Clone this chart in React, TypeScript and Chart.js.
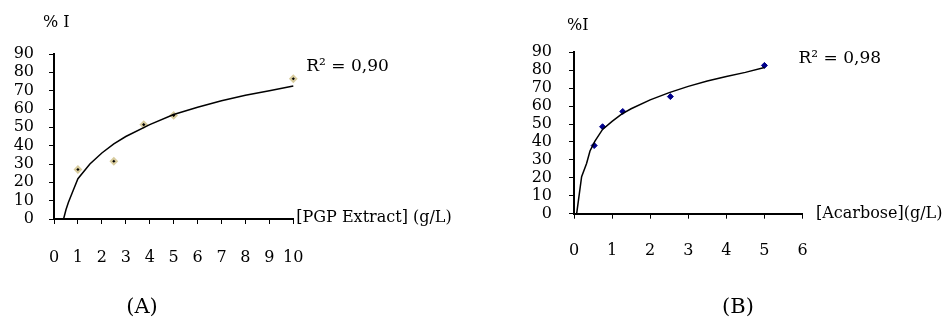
import React, { useEffect, useRef } from "react";
import { Chart, registerables } from "chart.js";
Chart.register(...registerables);

const FONT = "'DejaVu Serif', 'Liberation Serif', serif";

// ---- Panel A: PGP extract ----
const aPointX = [1, 2.5, 3.75, 5, 10];
const aPointY = [27, 31.5, 51.5, 56.5, 76.5];
const aTrendX = [0.4, 0.5, 0.6, 0.8, 1, 1.5, 2, 2.5, 3, 4, 5, 6, 7, 8, 9, 10];
const aTrendY = [0, 5, 9, 15.5, 22, 30, 36, 41, 45, 51.5, 57, 61, 64.5, 67.5, 70, 72.5];
const aXMax = 10;

// ---- Panel B: Acarbose ----
const bPointX = [0.53, 0.75, 1.28, 2.53, 5];
const bPointY = [38, 48.5, 57, 65.3, 82.7];
const bTrendX = [0.07, 0.2, 0.33, 0.42, 0.55, 0.75, 1, 1.25, 1.5, 2, 2.5, 3, 3.5, 4, 4.5, 5];
const bTrendY = [0, 20.6, 28, 35, 40.5, 47, 51.5, 55.5, 58.5, 63.5, 67.5, 71, 74, 76.5, 78.8, 81.5];
const bXMax = 6;

const yMax = 90;
const yStep = 10;

type Label = { text: string; dx: number; dy: number; anchor: "left" | "right" | "bottom" | "canvas"; size: number; align?: CanvasTextAlign };

type PanelProps = {
  left: number;
  width: number;
  pad: { top: number; right: number };
  yWidth: number;
  xHeight: number;
  yLabelPad: number;
  xLabelPad: number;
  px: number[];
  py: number[];
  tx: number[];
  ty: number[];
  xMax: number;
  pointBg: string;
  pointBorder: string;
  pointBorderWidth: number;
  pointRadius: number;
  labels: Label[];
};

function Panel(p: PanelProps) {
  const ref = useRef<HTMLCanvasElement>(null);
  useEffect(() => {
    const textPlugin = {
      id: "panelText",
      afterDraw(chart: any) {
        const ctx = chart.ctx as CanvasRenderingContext2D;
        const a = chart.chartArea;
        ctx.save();
        ctx.fillStyle = "#000";
        ctx.textBaseline = "middle";
        for (const l of p.labels) {
          ctx.font = `${l.size}px ${FONT}`;
          ctx.textAlign = l.align || "left";
          let x = 0, y = 0;
          if (l.anchor === "canvas") { x = l.dx; y = l.dy; }
          else if (l.anchor === "left") { x = a.left + l.dx; y = a.top + l.dy; }
          else if (l.anchor === "right") { x = a.right + l.dx; y = a.top + l.dy; }
          else { x = a.right + l.dx; y = a.bottom + l.dy; }
          ctx.fillText(l.text, x, y);
        }
        ctx.restore();
      },
    };
    const chart = new Chart(ref.current!, {
      type: "scatter",
      data: {
        datasets: [
          {
            data: p.tx.map((x, i) => ({ x, y: p.ty[i] })),
            showLine: true,
            borderColor: "#000",
            borderWidth: 1.5,
            pointRadius: 0,
            tension: 0,
            clip: false,
          },
          {
            data: p.px.map((x, i) => ({ x, y: p.py[i] })),
            showLine: false,
            pointStyle: "rectRot",
            pointRadius: p.pointRadius,
            backgroundColor: p.pointBg,
            borderColor: p.pointBorder,
            borderWidth: p.pointBorderWidth,
            clip: false,
          },
        ],
      },
      options: {
        animation: false,
        responsive: false,
        layout: { padding: { top: p.pad.top, right: p.pad.right, left: 0, bottom: 0 } },
        plugins: { legend: { display: false }, tooltip: { enabled: false } },
        scales: {
          x: {
            type: "linear",
            min: 0,
            max: p.xMax,
            ticks: { stepSize: 1, color: "#000", font: { family: FONT, size: 16 }, padding: p.xLabelPad, maxRotation: 0, autoSkip: false },
            grid: { drawOnChartArea: false, drawTicks: true, tickLength: 5, color: "#000", lineWidth: 1 },
            border: { display: true, color: "#000", width: 2 },
            afterFit(scale: any) { scale.height = p.xHeight; },
          },
          y: {
            min: 0,
            max: yMax,
            ticks: { stepSize: yStep, color: "#000", font: { family: FONT, size: 16, lineHeight: 1 }, padding: p.yLabelPad, autoSkip: false },
            grid: { drawOnChartArea: false, drawTicks: true, tickLength: 5, color: "#000", lineWidth: 1 },
            border: { display: true, color: "#000", width: 2 },
            afterFit(scale: any) { scale.width = p.yWidth; },
          },
        },
      },
      plugins: [textPlugin],
    });
    return () => chart.destroy();
  }, []);
  return (
    <canvas
      ref={ref}
      width={p.width}
      height={331}
      style={{ position: "absolute", left: p.left, top: 0, width: p.width, height: 331 }}
    />
  );
}

export default function App() {
  return (
    <div style={{ position: "fixed", left: 0, top: 0, width: 951, height: 331, background: "#fff", overflow: "hidden" }}>
      <Panel
        left={0}
        width={480}
        pad={{ top: 54, right: 480 - 293.3 }}
        yWidth={54}
        xHeight={331 - 219}
        yLabelPad={15}
        xLabelPad={24}
        px={aPointX}
        py={aPointY}
        tx={aTrendX}
        ty={aTrendY}
        xMax={aXMax}
        pointBg="#000"
        pointBorder="#d8cc9e"
        pointBorderWidth={2}
        pointRadius={3}
        labels={[
          { text: "% I", dx: -11, dy: -31, anchor: "left", size: 16 },
          { text: "[PGP Extract] (g/L)", dx: 3, dy: -1, anchor: "bottom", size: 16 },
          { text: "R² = 0,90", dx: 13, dy: 13, anchor: "right", size: 17 },
          { text: "(A)", dx: 142, dy: 308, anchor: "canvas", size: 21, align: "center" },
        ]}
      />
      <Panel
        left={480}
        width={471}
        pad={{ top: 52.3, right: 471 - 322.5 }}
        yWidth={94}
        xHeight={331 - 213.7}
        yLabelPad={17}
        xLabelPad={23}
        px={bPointX}
        py={bPointY}
        tx={bTrendX}
        ty={bTrendY}
        xMax={bXMax}
        pointBg="#00008b"
        pointBorder="#00008b"
        pointBorderWidth={1}
        pointRadius={3}
        labels={[
          { text: "%I", dx: -7, dy: -26, anchor: "left", size: 16 },
          { text: "[Acarbose](g/L)", dx: 13.5, dy: 0, anchor: "bottom", size: 16 },
          { text: "R² = 0,98", dx: -4, dy: 6, anchor: "right", size: 17 },
          { text: "(B)", dx: 258, dy: 308, anchor: "canvas", size: 21, align: "center" },
        ]}
      />
    </div>
  );
}
